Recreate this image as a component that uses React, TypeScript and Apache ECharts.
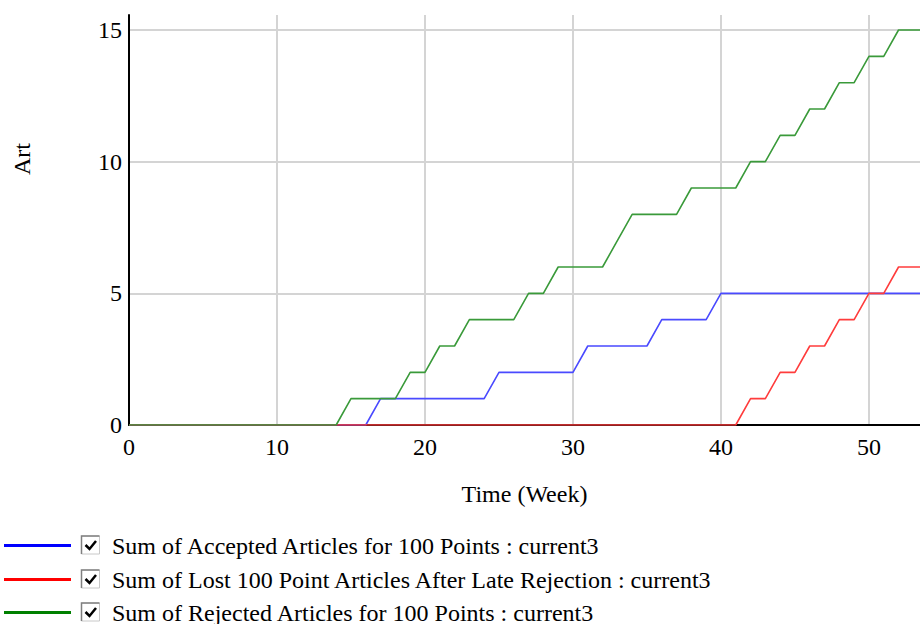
import React, { useEffect, useRef } from "react";
import * as echarts from "echarts";

const weeks = [
  0, 1, 2, 3, 4, 5, 6, 7, 8, 9, 10, 11, 12, 13, 14, 15, 16, 17, 18, 19, 20,
  21, 22, 23, 24, 25, 26, 27, 28, 29, 30, 31, 32, 33, 34, 35, 36, 37, 38, 39,
  40, 41, 42, 43, 44, 45, 46, 47, 48, 49, 50, 51, 52, 53, 54,
];

const accepted = [
  0, 0, 0, 0, 0, 0, 0, 0, 0, 0, 0, 0, 0, 0, 0, 0, 0, 1, 1, 1, 1,
  1, 1, 1, 1, 2, 2, 2, 2, 2, 2, 3, 3, 3, 3, 3, 4, 4, 4, 4,
  5, 5, 5, 5, 5, 5, 5, 5, 5, 5, 5, 5, 5, 5, 5,
];

const lost = [
  0, 0, 0, 0, 0, 0, 0, 0, 0, 0, 0, 0, 0, 0, 0, 0, 0, 0, 0, 0, 0,
  0, 0, 0, 0, 0, 0, 0, 0, 0, 0, 0, 0, 0, 0, 0, 0, 0, 0, 0,
  0, 0, 1, 1, 2, 2, 3, 3, 4, 4, 5, 5, 6, 6, 6,
];

const rejected = [
  0, 0, 0, 0, 0, 0, 0, 0, 0, 0, 0, 0, 0, 0, 0, 1, 1, 1, 1, 2, 2,
  3, 3, 4, 4, 4, 4, 5, 5, 6, 6, 6, 6, 7, 8, 8, 8, 8, 9, 9,
  9, 9, 10, 10, 11, 11, 12, 12, 13, 13, 14, 14, 15, 15, 15,
];

const seriesNames = [
  "Sum of Accepted Articles for 100 Points : current3",
  "Sum of Lost 100 Point Articles After Late Rejection : current3",
  "Sum of Rejected Articles for 100 Points : current3",
];
const seriesValues = [accepted, lost, rejected];
const lineColors = ["#4a4aff", "#ff3c3c", "#3a9a3a"];
const legendColors = ["#0000ff", "#ff0000", "#008000"];

const xTitle = "Time (Week)";
const yTitle = "Art";

const FONT = "'Liberation Serif', 'Times New Roman', serif";

export default function App() {
  const ref = useRef<HTMLDivElement>(null);

  useEffect(() => {
    if (!ref.current) return;
    const chart = echarts.init(ref.current, null, { renderer: "svg" });

    const legendY = [545, 578.5, 612];
    const legendGraphics = seriesNames.map((name, i) => {
      const y = Math.round(legendY[i]) + 0.5;
      return {
        type: "group",
        children: [
          {
            type: "line",
            shape: { x1: 4, y1: y, x2: 71, y2: y },
            style: { stroke: legendColors[i], lineWidth: 3 },
          },
          {
            type: "rect",
            shape: { x: 81.5, y: y - 9.5, width: 18, height: 18 },
            style: { fill: "#fff", stroke: "#c8c8c8", lineWidth: 1 },
          },
          {
            type: "polyline",
            shape: {
              points: [
                [81.5, y + 8.5],
                [81.5, y - 9.5],
                [99.5, y - 9.5],
              ],
            },
            style: { stroke: "#808080", fill: null, lineWidth: 1.5 },
          },
          {
            type: "polyline",
            shape: {
              points: [
                [85.5, y - 0.5],
                [89.5, y + 3.5],
                [96, y - 4.5],
              ],
            },
            style: { stroke: "#000", fill: null, lineWidth: 2.5 },
          },
          {
            type: "text",
            x: 112,
            y: y,
            style: {
              text: name,
              fontSize: 24,
              fontFamily: FONT,
              fill: "#000",
              align: "left",
              verticalAlign: "middle",
              textAlign: "left",
              textVerticalAlign: "middle",
            },
          },
        ],
      };
    });

    const option: any = {
      animation: false,
      backgroundColor: "#fff",
      grid: { left: 129, top: 15, right: 0, bottom: 199, containLabel: false },
      xAxis: {
        type: "value",
        min: 0,
        max: 53.45,
        interval: 10,
        name: xTitle,
        nameLocation: "middle",
        nameGap: 57,
        nameTextStyle: { fontSize: 24, fontFamily: FONT, color: "#000" },
        axisLine: { show: true, onZero: false, lineStyle: { color: "#000", width: 2 } },
        axisTick: { show: false },
        axisLabel: {
          fontSize: 24,
          fontFamily: FONT,
          color: "#000",
          margin: 10,
          showMaxLabel: false,
        },
        splitLine: {
          show: true,
          showMinLine: false,
          showMaxLine: false,
          lineStyle: { color: "#d4d4d4", width: 2 },
        },
      },
      yAxis: {
        type: "value",
        min: 0,
        max: 15.57,
        interval: 5,
        axisLine: { show: true, onZero: false, lineStyle: { color: "#000", width: 2 } },
        axisTick: { show: false },
        axisLabel: {
          fontSize: 24,
          fontFamily: FONT,
          color: "#000",
          margin: 7,
          showMaxLabel: false,
        },
        splitLine: {
          show: true,
          showMinLine: false,
          showMaxLine: false,
          lineStyle: { color: "#d4d4d4", width: 2 },
        },
      },
      series: seriesNames.map((name, i) => ({
        name,
        type: "line",
        showSymbol: false,
        symbol: "none",
        data: weeks.map((w, j) => [w, seriesValues[i][j]]),
        lineStyle: { color: lineColors[i], width: 1.6 },
        itemStyle: { color: lineColors[i] },
        z: 3 + i,
      })),
      graphic: [
        {
          type: "text",
          x: 22,
          y: 159,
          rotation: Math.PI / 2,
          style: {
            text: yTitle,
            fontSize: 24,
            fontFamily: FONT,
            fill: "#000",
            align: "center",
            verticalAlign: "middle",
            textAlign: "center",
            textVerticalAlign: "middle",
          },
        },
        ...legendGraphics,
      ],
    };

    chart.setOption(option);
    return () => chart.dispose();
  }, []);

  return (
    <div
      ref={ref}
      style={{ position: "absolute", left: 0, top: 0, width: 920, height: 624 }}
    />
  );
}
